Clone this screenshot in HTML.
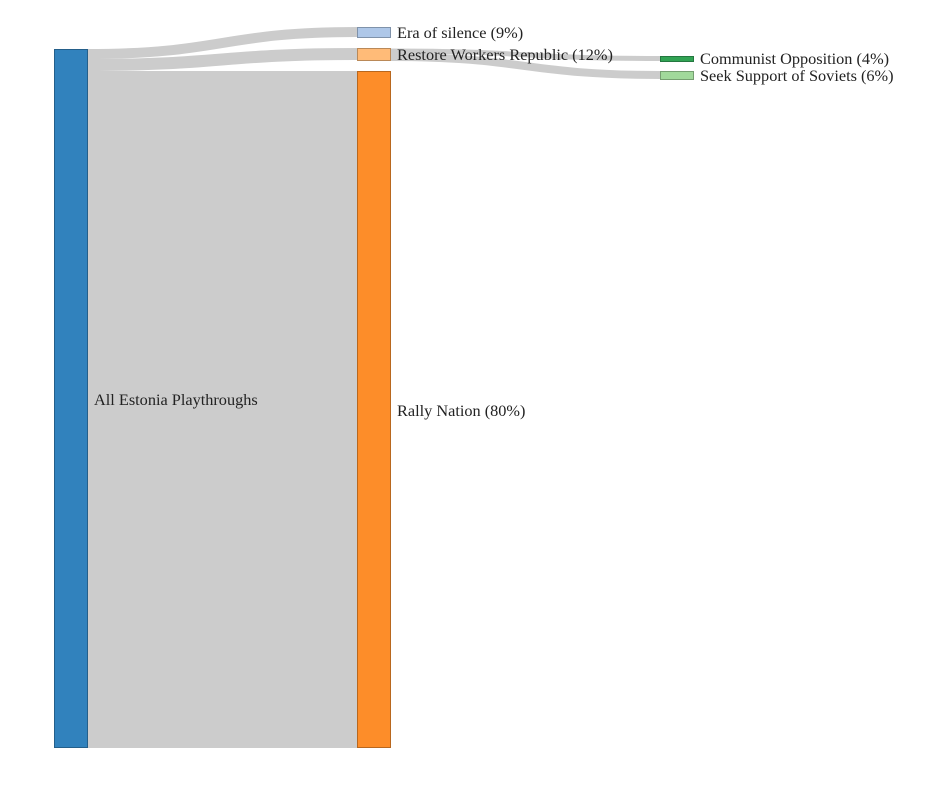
<!DOCTYPE html>
<html><head><style>body{margin:0;background:#fff}svg text{font-family:"Liberation Serif",serif;font-size:16.3px;fill:#222}</style></head>
<body><svg width="943" height="788" xmlns="http://www.w3.org/2000/svg">
<g fill="none" stroke="#cccccc">
<path d="M88,54 C222,54 222,32 357,32" stroke-width="10"/>
<path d="M88,65 C222,65 222,54 357,54" stroke-width="12"/>
<path d="M88,409.5 L357,409.5" stroke-width="677"/>
<path d="M390,51 C525,51 525,58.5 660,58.5" stroke-width="5"/>
<path d="M390,57 C525,57 525,75 660,75" stroke-width="8"/>
</g>
<rect x="54.5" y="49.5" width="33" height="698" fill="#3182bd" stroke="#245f8a"/>
<rect x="357.5" y="27.5" width="33" height="10" fill="#aec7e8" stroke="#7f92aa"/>
<rect x="357.5" y="48.5" width="33" height="12" fill="#ffbb78" stroke="#ba8958"/>
<rect x="357.5" y="71.5" width="33" height="676" fill="#fd8d29" stroke="#b8671e"/>
<rect x="660.5" y="56.5" width="33" height="5" fill="#31a354" stroke="#247740"/>
<rect x="660.5" y="71.5" width="33" height="8" fill="#a1d99b" stroke="#769f71"/>
<text x="94" y="405">All Estonia Playthroughs</text>
<text x="397" y="38">Era of silence (9%)</text>
<text x="397" y="60">Restore Workers Republic (12%)</text>
<text x="397" y="416">Rally Nation (80%)</text>
<text x="700" y="64">Communist Opposition (4%)</text>
<text x="700" y="81">Seek Support of Soviets (6%)</text>
</svg></body></html>
